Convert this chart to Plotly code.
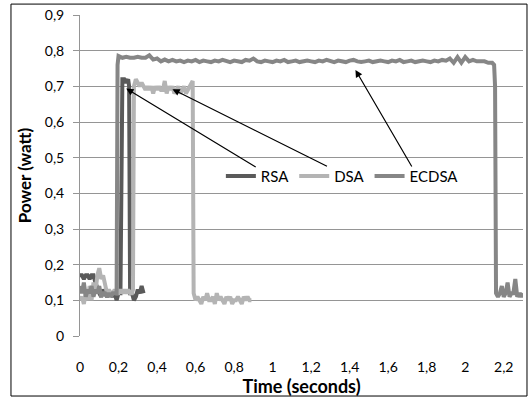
import plotly.graph_objects as go

# ---- data ----
rsa_t = [0.00, 0.01, 0.02, 0.03, 0.04, 0.05, 0.06, 0.07, 0.08, 0.09, 0.10, 0.11, 0.12, 0.13,
         0.14, 0.15, 0.16, 0.17, 0.18, 0.19, 0.20, 0.21, 0.215, 0.22, 0.23, 0.24, 0.25, 0.255,
         0.26, 0.27, 0.28, 0.29, 0.30, 0.31, 0.32, 0.33]
rsa_p = [0.17, 0.17, 0.16, 0.17, 0.17, 0.16, 0.17, 0.17, 0.15, 0.13, 0.12, 0.11, 0.13, 0.12,
         0.11, 0.12, 0.12, 0.11, 0.12, 0.10, 0.12, 0.12, 0.70, 0.72, 0.72, 0.71, 0.72, 0.70,
         0.12, 0.12, 0.10, 0.11, 0.13, 0.12, 0.14, 0.12]

dsa_t = [0.00, 0.01, 0.02, 0.03, 0.04, 0.05, 0.06, 0.07, 0.08, 0.09, 0.10, 0.11, 0.12, 0.13,
         0.14, 0.15, 0.16, 0.17, 0.18, 0.19, 0.20, 0.21, 0.22, 0.23, 0.24, 0.25, 0.26, 0.27,
         0.275, 0.28, 0.29, 0.30, 0.31, 0.32, 0.33, 0.34, 0.35, 0.36, 0.37, 0.38, 0.39, 0.40,
         0.41, 0.42, 0.43, 0.44, 0.45, 0.46, 0.47, 0.48, 0.49, 0.50, 0.51, 0.52, 0.53, 0.54,
         0.55, 0.56, 0.57, 0.58, 0.585, 0.59, 0.60, 0.61, 0.62, 0.63, 0.64, 0.65, 0.66, 0.67,
         0.68, 0.69, 0.70, 0.71, 0.72, 0.73, 0.74, 0.75, 0.76, 0.77, 0.78, 0.79, 0.80, 0.81,
         0.82, 0.83, 0.84, 0.85, 0.86, 0.87, 0.88, 0.89]
dsa_p = [0.10, 0.11, 0.09, 0.12, 0.10, 0.14, 0.10, 0.15, 0.12, 0.17, 0.19, 0.16, 0.17, 0.14,
         0.12, 0.13, 0.12, 0.12, 0.13, 0.12, 0.12, 0.13, 0.12, 0.13, 0.12, 0.13, 0.12, 0.12,
         0.13, 0.70, 0.72, 0.71, 0.70, 0.71, 0.70, 0.69, 0.70, 0.69, 0.70, 0.68, 0.70, 0.69,
         0.70, 0.69, 0.69, 0.715, 0.68, 0.70, 0.69, 0.70, 0.68, 0.69, 0.70, 0.68, 0.69, 0.70,
         0.68, 0.69, 0.70, 0.71, 0.715, 0.12, 0.10, 0.11, 0.10, 0.09, 0.11, 0.10, 0.12, 0.10,
         0.10, 0.11, 0.09, 0.12, 0.10, 0.11, 0.10, 0.09, 0.11, 0.10, 0.11, 0.09, 0.10, 0.10,
         0.11, 0.10, 0.09, 0.11, 0.10, 0.11, 0.10, 0.10]

ecdsa_t = [0.00, 0.01, 0.02, 0.03, 0.04, 0.05, 0.06, 0.07, 0.08, 0.09, 0.10, 0.11, 0.12,
           0.13, 0.14, 0.15, 0.16, 0.17, 0.18, 0.19, 0.195, 0.20, 0.22, 0.24, 0.26, 0.28,
           0.30, 0.32, 0.34, 0.36, 0.38, 0.40, 0.42, 0.44, 0.46, 0.48, 0.50, 0.52, 0.54,
           0.56, 0.58, 0.60, 0.62, 0.64, 0.66, 0.68, 0.70, 0.72, 0.74, 0.76, 0.78, 0.80,
           0.82, 0.84, 0.86, 0.88, 0.90, 0.92, 0.94, 0.96, 0.98, 1.00, 1.02, 1.04, 1.06,
           1.08, 1.10, 1.12, 1.14, 1.16, 1.18, 1.20, 1.22, 1.24, 1.26, 1.28, 1.30, 1.32,
           1.34, 1.36, 1.38, 1.40, 1.42, 1.44, 1.46, 1.48, 1.50, 1.52, 1.54, 1.56, 1.58,
           1.60, 1.62, 1.64, 1.66, 1.68, 1.70, 1.72, 1.74, 1.76, 1.78, 1.80, 1.82, 1.84,
           1.86, 1.88, 1.90, 1.92, 1.94, 1.96, 1.98, 2.00, 2.02, 2.04, 2.06, 2.08, 2.10,
           2.12, 2.14, 2.15, 2.155, 2.16, 2.17, 2.18, 2.19, 2.20, 2.21, 2.22, 2.23, 2.24,
           2.25, 2.26, 2.27, 2.28, 2.29, 2.30]
ecdsa_p = [0.14, 0.12, 0.15, 0.11, 0.13, 0.12, 0.14, 0.11, 0.13, 0.12, 0.14, 0.11, 0.12,
           0.12, 0.11, 0.12, 0.11, 0.12, 0.12, 0.12, 0.76, 0.785, 0.78, 0.783, 0.78, 0.78,
           0.783, 0.78, 0.78, 0.787, 0.775, 0.778, 0.77, 0.775, 0.77, 0.774, 0.77, 0.772, 0.768,
           0.772, 0.77, 0.774, 0.768, 0.772, 0.77, 0.768, 0.772, 0.77, 0.774, 0.77, 0.768,
           0.772, 0.77, 0.768, 0.774, 0.772, 0.778, 0.77, 0.768, 0.772, 0.77, 0.768, 0.772,
           0.77, 0.774, 0.768, 0.77, 0.772, 0.768, 0.77, 0.772, 0.77, 0.768, 0.772, 0.77,
           0.774, 0.77, 0.768, 0.772, 0.77, 0.768, 0.772, 0.774, 0.77, 0.768, 0.77, 0.772,
           0.768, 0.77, 0.772, 0.77, 0.768, 0.772, 0.77, 0.774, 0.768, 0.77, 0.772, 0.768,
           0.77, 0.772, 0.77, 0.768, 0.772, 0.77, 0.774, 0.772, 0.778, 0.766, 0.782, 0.766,
           0.782, 0.77, 0.774, 0.77, 0.77, 0.77, 0.766, 0.766, 0.76, 0.70, 0.12, 0.11,
           0.12, 0.14, 0.11, 0.12, 0.15, 0.11, 0.12, 0.12, 0.16, 0.11, 0.12, 0.11, 0.12]

series_names = ["RSA", "DSA", "ECDSA"]
series_colors = ["#5a5a5a", "#b4b4b4", "#868686"]

x_tickvals = [0, 0.2, 0.4, 0.6, 0.8, 1.0, 1.2, 1.4, 1.6, 1.8, 2.0, 2.2]
x_ticktext = ["0", "0,2", "0,4", "0,6", "0,8", "1", "1,2", "1,4", "1,6", "1,8", "2", "2,2"]
y_tickvals = [0, 0.1, 0.2, 0.3, 0.4, 0.5, 0.6, 0.7, 0.8, 0.9]
y_ticktext = ["0", "0,1", "0,2", "0,3", "0,4", "0,5", "0,6", "0,7", "0,8", "0,9"]

# arrow tips (on the curves) and tails (near the legend labels)
arrow_tip_t = [0.24, 0.48, 1.43]
arrow_tip_p = [0.694, 0.692, 0.746]
arrow_tail_t = [0.92, 1.29, 1.727]
arrow_tail_p = [0.471, 0.474, 0.471]

FONT = "Lato, 'Open Sans', sans-serif"

fig = go.Figure()
for name, t, p, c in zip(series_names, [rsa_t, dsa_t, ecdsa_t],
                         [rsa_p, dsa_p, ecdsa_p], series_colors):
    fig.add_trace(go.Scatter(x=t, y=p, mode="lines", name=name,
                             line=dict(color=c, width=4)))

for tx, ty, ax, ay in zip(arrow_tip_t, arrow_tip_p, arrow_tail_t, arrow_tail_p):
    fig.add_annotation(x=tx, y=ty, ax=ax, ay=ay, xref="x", yref="y",
                       axref="x", ayref="y", text="", showarrow=True,
                       arrowhead=2, arrowsize=1.2, arrowwidth=1.2,
                       arrowcolor="black")

fig.add_shape(type="rect", xref="paper", yref="paper",
              x0=-0.1558, x1=1.009, y0=-0.187, y1=1.034,
              line=dict(color="black", width=1), fillcolor="rgba(0,0,0,0)")

fig.update_layout(
    width=528, height=400,
    margin=dict(l=80, r=5, t=15, b=64),
    paper_bgcolor="white", plot_bgcolor="white",
    font=dict(family=FONT, size=14, color="black"),
    showlegend=True,
    legend=dict(orientation="h", x=0.318, y=0.498, xanchor="left", yanchor="middle",
                bgcolor="rgba(0,0,0,0)", itemwidth=30, font=dict(size=15),
                traceorder="normal"),
    xaxis=dict(range=[0, 2.3], tickvals=x_tickvals, ticktext=x_ticktext,
               showgrid=False, zeroline=False, showline=False, ticks="",
               ticklabelstandoff=21,
               title=dict(text="<b>Time (seconds)</b>", font=dict(size=18), standoff=1)),
    yaxis=dict(range=[0, 0.9], tickvals=y_tickvals, ticktext=y_ticktext,
               showgrid=True, gridcolor="#959595", gridwidth=1, zeroline=False,
               showline=True, linecolor="#959595", linewidth=1,
               ticks="outside", ticklen=6, tickcolor="#959595",
               ticklabelstandoff=6,
               title=dict(text="<b>Power (watt)</b>", font=dict(size=17), standoff=8)),
)

fig.write_html("out.html")
